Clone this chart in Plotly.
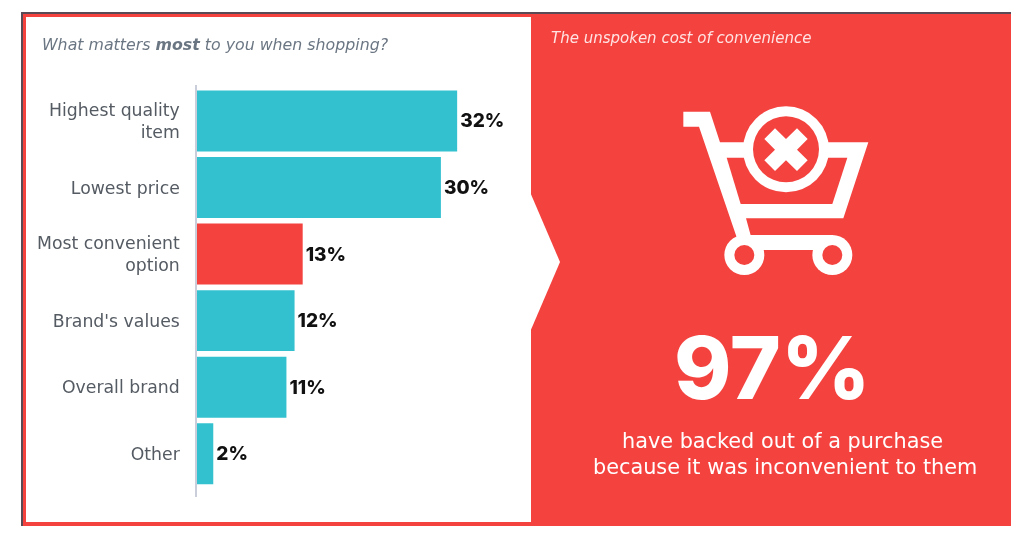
import plotly.graph_objects as go

categories = ["Highest quality<br>item", "Lowest price", "Most convenient<br>option",
              "Brand's values", "Overall brand", "Other"]
values = [32, 30, 13, 12, 11, 2]
value_labels = ["32%", "30%", "13%", "12%", "11%", "2%"]
TEAL = "#33C1CF"
RED = "#F4423F"
bar_colors = [TEAL, TEAL, RED, TEAL, TEAL, TEAL]

W, H = 1024, 538
FONT = "Inter"
TEXT_FONT = "DejaVu Sans"
GREY = "#555B63"


def px(x):
    return x / W


def py(y):
    return 1 - y / H


def pth(points):
    return "M " + " L ".join(f"{px(x):.5f},{py(y):.5f}" for x, y in points) + " Z"


def rect(x0, y0, x1, y1, color):
    return dict(type="rect", xref="paper", yref="paper", layer="below",
                x0=px(x0), x1=px(x1), y0=py(y0), y1=py(y1),
                fillcolor=color, line_width=0)


def poly(points, color, layer="below"):
    return dict(type="path", xref="paper", yref="paper", layer=layer,
                path=pth(points), fillcolor=color, line_width=0)


def circle(cx, cy, r, color):
    return dict(type="circle", xref="paper", yref="paper", layer="below",
                x0=px(cx - r), x1=px(cx + r), y0=py(cy + r), y1=py(cy - r),
                fillcolor=color, line_width=0)


# Cart icon geometry (measured on a 3x crop anchored at 660,90)
def c(x, y):
    return (660 + x / 3, 90 + y / 3)


cart = [
    poly([c(70, 65), c(150, 65), c(180, 157), c(625, 157), c(550, 385), c(258, 385),
          c(272, 436), c(230, 442), c(117, 110), c(70, 110)], "white"),
    poly([c(200, 203), c(562, 203), c(517, 342), c(242, 342)], RED),
    poly([c(235, 435), c(517, 435), c(517, 480), c(235, 480)], "white"),
    circle(*c(253, 495), 20, "white"), circle(*c(253, 495), 10, RED),
    circle(*c(517, 495), 20, "white"), circle(*c(517, 495), 10, RED),
    circle(*c(378, 178), 43, "white"), circle(*c(378, 178), 33, RED),
    poly([c(345, 115), c(378, 147), c(411, 115), c(443, 147), c(411, 179), c(443, 211),
          c(411, 243), c(378, 211), c(345, 243), c(313, 211), c(345, 179), c(313, 147)], "white"),
]

shapes = [
    rect(21, 12, 1011, 526, "#5A4A55"),
    rect(23, 14, 1011, 526, RED),
    rect(26, 17, 531, 522, "white"),
    poly([(530, 192), (560, 262), (530, 332)], "white"),
] + cart

fig = go.Figure(go.Bar(
    y=categories, x=values, orientation="h",
    marker=dict(color=bar_colors, line_width=0),
    text=value_labels, textposition="outside", cliponaxis=False,
    textfont=dict(family=FONT, size=19, color="#111111", weight=800),
    hoverinfo="skip",
))

annotations = [
    dict(text="What matters <b>most</b> to you when shopping?", x=px(40), y=py(44),
         font=dict(size=15.8, color="#6B7683", family=TEXT_FONT, style="italic"), xanchor="left"),
    dict(text="The unspoken cost of convenience", x=px(549), y=py(38),
         font=dict(size=15, color="#FFE3E2", family=TEXT_FONT, style="italic"), xanchor="left"),
    dict(text="97%", x=px(772), y=py(367),
         font=dict(size=87, color="white", family=FONT, weight=800), xanchor="center"),
    dict(text="have backed out of a purchase", x=px(782), y=py(441),
         font=dict(size=20.8, color="white", family=TEXT_FONT), xanchor="center"),
    dict(text="because it was inconvenient to them", x=px(785), y=py(467),
         font=dict(size=20.8, color="white", family=TEXT_FONT), xanchor="center"),
]
for a in annotations:
    a.update(xref="paper", yref="paper", yanchor="middle", showarrow=False)

fig.update_layout(
    width=W, height=H, margin=dict(l=0, r=0, t=0, b=0),
    paper_bgcolor="white", plot_bgcolor="rgba(0,0,0,0)",
    showlegend=False, bargap=0.085, shapes=shapes, annotations=annotations,
    xaxis=dict(domain=[px(197), px(530)], range=[0, 333 / 8.13], visible=False),
    yaxis=dict(domain=[py(497), py(85)], range=[5.65, -0.54], type="category",
               categoryorder="array", categoryarray=categories,
               showline=True, linecolor="#C9CEDA", linewidth=1.5, showgrid=False,
               ticks="outside", ticklen=12, tickcolor="rgba(0,0,0,0)",
               tickfont=dict(family=TEXT_FONT, size=17.3, color=GREY)),
)

fig.write_html(
    "out.html",
    config={"displayModeBar": False},
    post_script=("document.body.style.margin='0';"
                 "document.documentElement.style.overflow='hidden';"
                 "document.querySelector('.js-plotly-plot').style.filter='blur(0.5px)';"),
)
